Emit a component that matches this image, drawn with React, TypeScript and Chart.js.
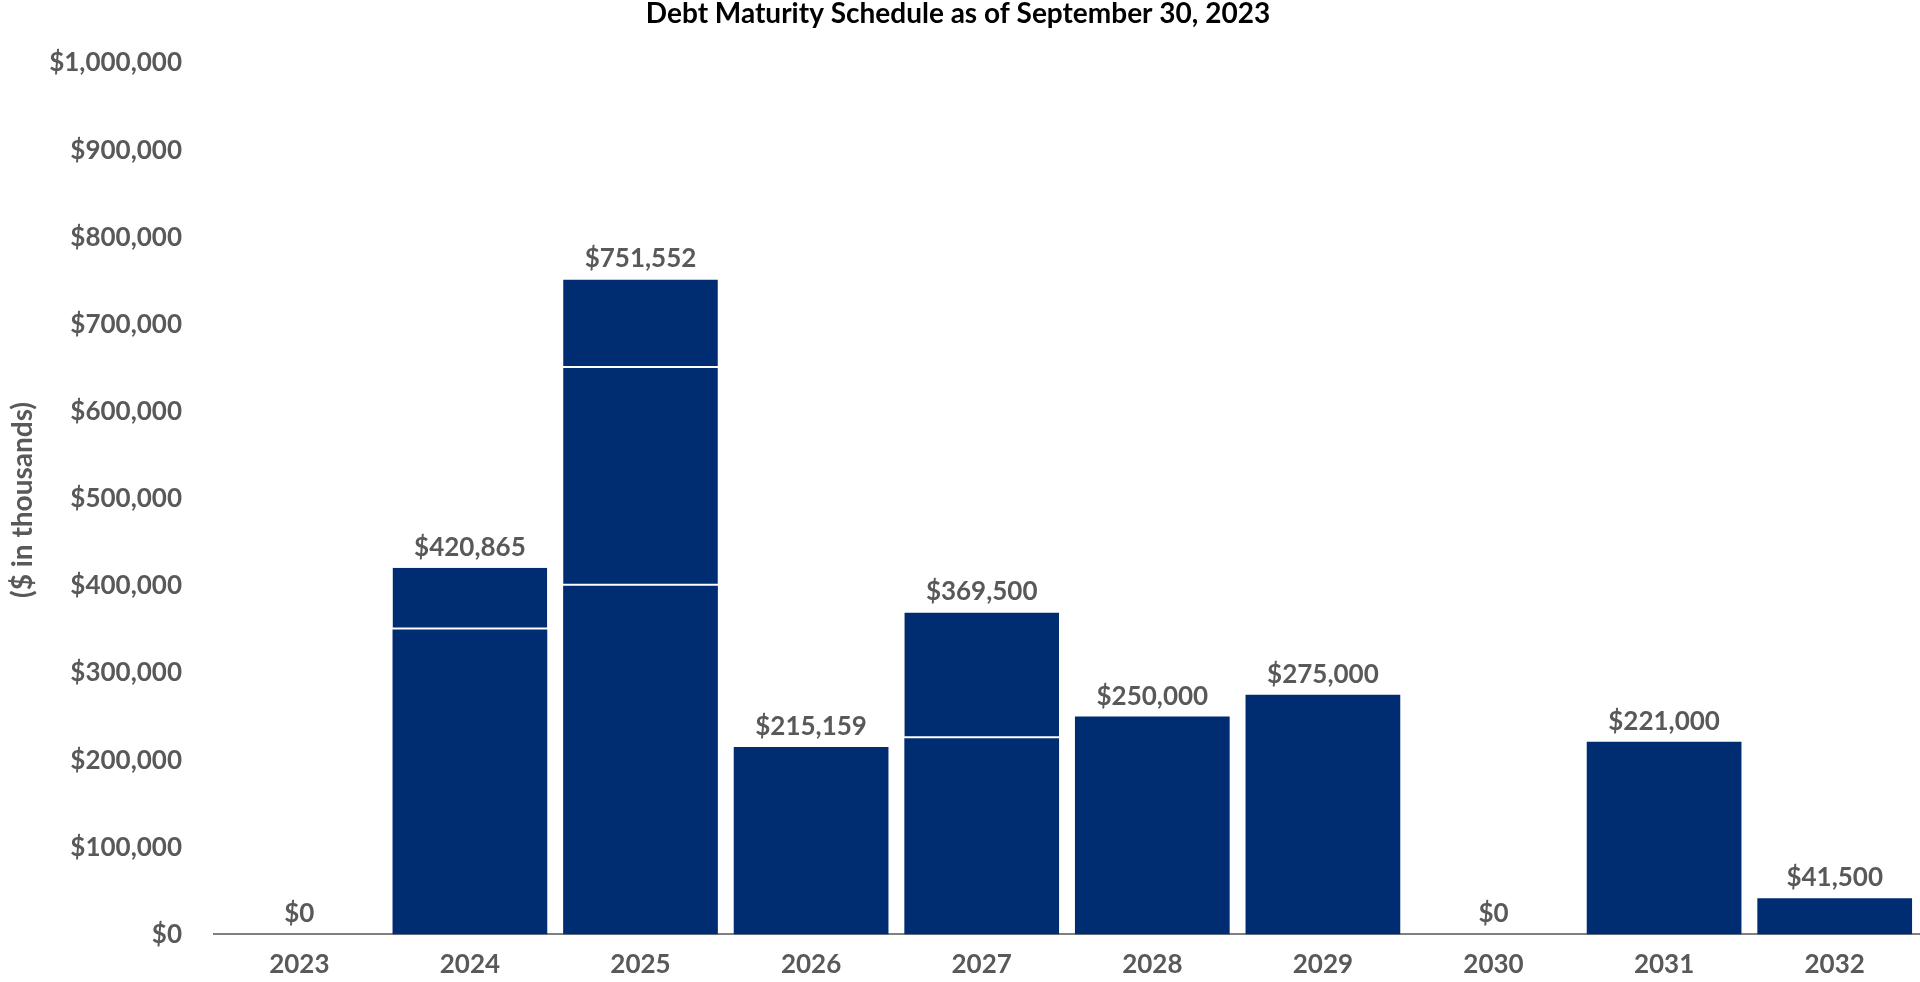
import React, { useEffect, useRef } from "react";
import { Chart, registerables } from "chart.js";

Chart.register(...registerables);

const TITLE = "Debt Maturity Schedule as of September 30, 2023";
const Y_TITLE = "($ in thousands)";
const categories = ["2023", "2024", "2025", "2026", "2027", "2028", "2029", "2030", "2031", "2032"];
const segment1: (number | null)[] = [null, 350000, 400000, 215159, 225000, 250000, 275000, null, 221000, 41500];
const segment2: (number | null)[] = [null, 70865, 250000, null, 144500, null, null, null, null, null];
const segment3: (number | null)[] = [null, null, 101552, null, null, null, null, null, null, null];
const totals = categories.map((_, i) => (segment1[i] || 0) + (segment2[i] || 0) + (segment3[i] || 0));

const BAR = "#002D72";
const GRAY = "#595959";
const FONT = "Lato, 'Open Sans', sans-serif";

const fmt = (v: number) => "$" + Math.round(v).toLocaleString("en-US");

const overlayPlugin = {
  id: "overlay",
  afterDatasetsDraw(chart: any) {
    const { ctx, scales } = chart;
    ctx.save();
    ctx.fillStyle = GRAY;
    ctx.font = `bold 26px ${FONT}`;
    ctx.textAlign = "center";
    ctx.textBaseline = "alphabetic";
    totals.forEach((t, i) => {
      const x = scales.x.getPixelForValue(i);
      const y = scales.y.getPixelForValue(t);
      ctx.fillText(fmt(t), x, y - 12);
    });
    // title
    ctx.fillStyle = "#000000";
    ctx.font = `bold 28px ${FONT}`;
    ctx.textBaseline = "middle";
    ctx.fillText(TITLE, 958, 14);
    // y title
    ctx.fillStyle = GRAY;
    ctx.font = `bold 28px ${FONT}`;
    ctx.translate(23, 500);
    ctx.rotate(-Math.PI / 2);
    ctx.fillText(Y_TITLE, 0, 0);
    ctx.restore();
  },
};

export default function App() {
  const ref = useRef<HTMLCanvasElement>(null);
  useEffect(() => {
    if (!ref.current) return;
    const common = {
      backgroundColor: BAR,
      borderColor: "#ffffff",
      borderSkipped: false,
      stack: "s",
      categoryPercentage: 1,
      barPercentage: 0.907,
    };
    const chart = new Chart(ref.current, {
      type: "bar",
      data: {
        labels: categories,
        datasets: [
          { ...common, label: "Tranche 1", data: segment1, borderWidth: 0 },
          { ...common, label: "Tranche 2", data: segment2, borderWidth: { bottom: 2, top: 0, left: 0, right: 0 } },
          { ...common, label: "Tranche 3", data: segment3, borderWidth: { bottom: 2, top: 0, left: 0, right: 0 } },
        ] as any,
      },
      options: {
        animation: false,
        responsive: false,
        maintainAspectRatio: false,
        layout: { padding: { left: 0, right: 0, top: 63, bottom: 0 } },
        plugins: { legend: { display: false }, tooltip: { enabled: false }, title: { display: false } },
        scales: {
          x: {
            stacked: true,
            grid: { display: false, drawTicks: false },
            border: { display: true, color: "#808080", width: 2 },
            ticks: { color: GRAY, font: { family: FONT, size: 26, weight: "bold" }, padding: 15 },
            afterFit: (s: any) => { s.height = 45; },
          },
          y: {
            stacked: true,
            min: 0,
            max: 1000000,
            grid: { display: false, drawTicks: false },
            border: { display: false },
            ticks: {
              stepSize: 100000,
              color: GRAY,
              font: { family: FONT, size: 26, weight: "bold" },
              padding: 32,
              callback: (v: any) => fmt(Number(v)),
            },
            afterFit: (s: any) => { s.width = 214; },
          },
        },
      },
      plugins: [overlayPlugin],
    });
    return () => chart.destroy();
  }, []);
  return (
    <div style={{ position: "fixed", left: 0, top: 0, width: 1920, height: 982, background: "#fff" }}>
      <canvas ref={ref} width={1920} height={982} style={{ width: 1920, height: 982, display: "block" }} />
    </div>
  );
}
